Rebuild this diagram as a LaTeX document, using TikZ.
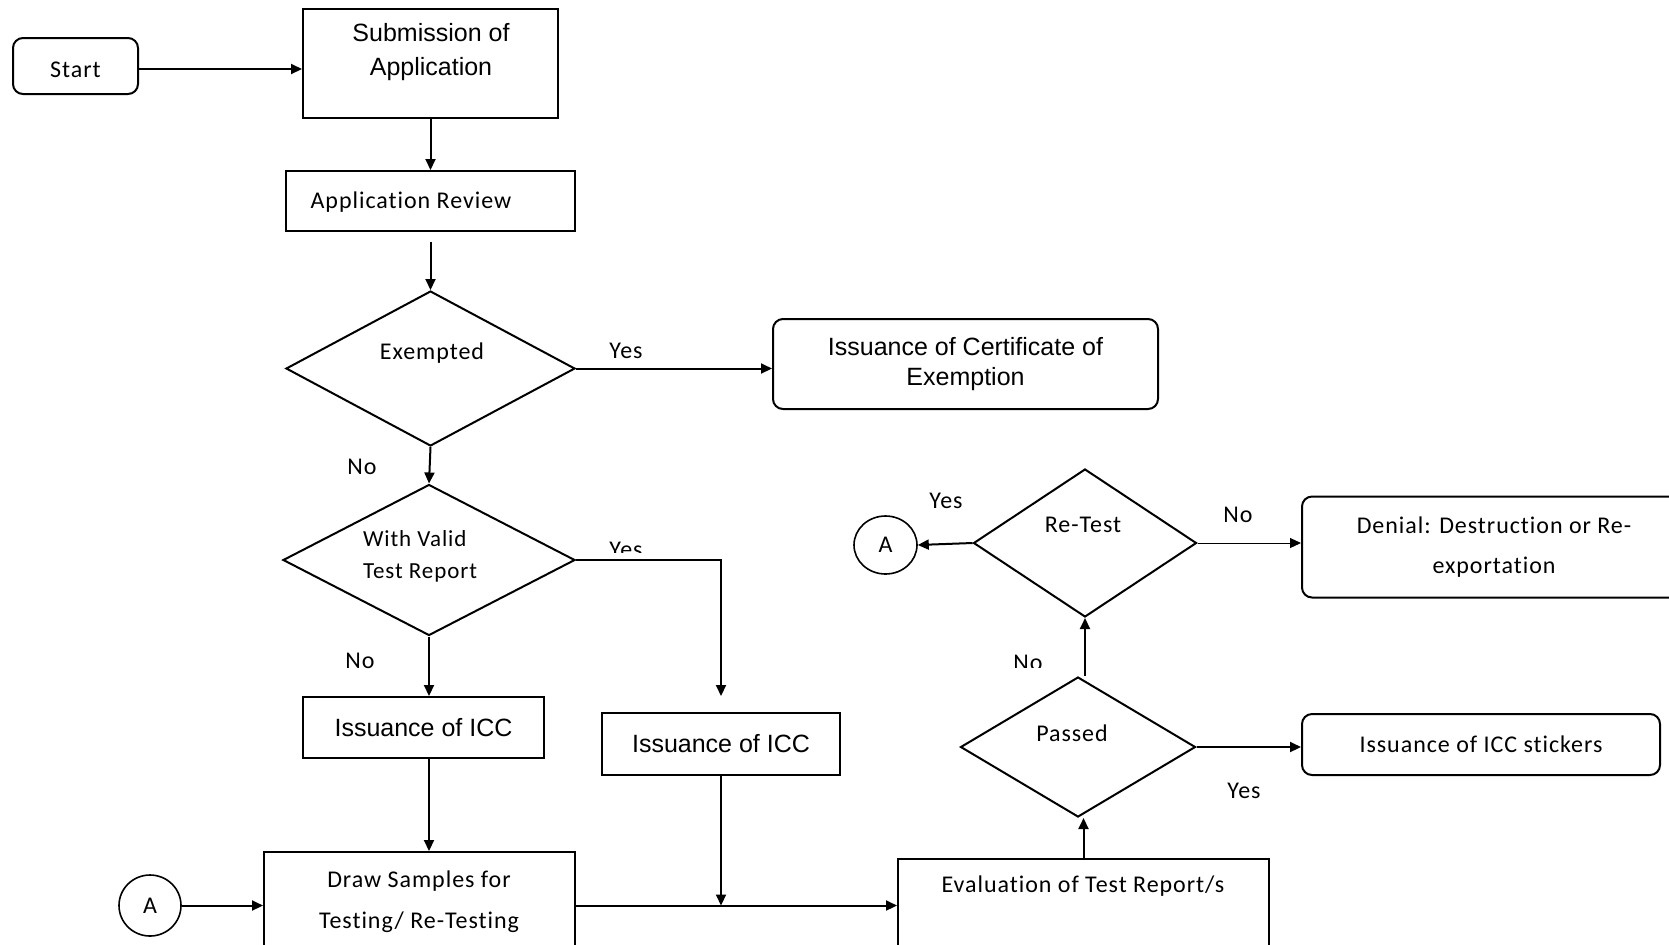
\documentclass[tikz,border=0pt]{standalone}
\usepackage{fontspec}
\setmainfont{Carlito}[LetterSpace=4,Ligatures=NoCommon]
\newfontfamily\arialfont{Liberation Sans}
\usetikzlibrary{arrows.meta,shapes.geometric,calc}

\newcommand\calfont{\fontsize{12}{14}\selectfont}
\newcommand\arfont{\arialfont\fontsize{12.5}{17}\selectfont}

\begin{document}
\begin{tikzpicture}[x=0.5pt,y=-0.5pt,
	box/.style={draw,line width=1pt,rectangle,inner sep=0pt},
	rbox/.style={box,rounded corners=5pt},
	decision/.style={draw,line width=1pt,diamond,inner sep=0pt},
	conn/.style={draw,ellipse,line width=0.8pt,inner sep=0pt,font=\calfont},
	flow/.style={line width=1pt,-{Triangle[length=5.5pt,width=5pt]}},
	txt/.style={inner sep=0pt,font=\calfont},
	lbl/.style={inner sep=0pt,font=\calfont}]
	\useasboundingbox (0,0) rectangle (1669,944);

	% Top row
	\node[rbox,minimum width=62.5pt,minimum height=28pt,font=\calfont,text height=11.7pt,text depth=0pt] (start) at (75.5,66) {Start};
	\node[box,minimum width=127.5pt,minimum height=54.5pt] (submit) at (430.5,63.5) {};
	\node[txt,font=\arfont,align=center] (submittext) at (431,52) {Submission of\\Application};
	\node[box,minimum width=144.5pt,minimum height=30pt] (review) at (430.5,201) {};
	\node[txt] (reviewtext) at (411,202) {Application Review};

	% Exemption check
	\node[decision,minimum width=144.5pt,minimum height=77.5pt] (exempt) at (430.5,368.5) {};
	\node[txt] (exempttext) at (432,353) {Exempted};
	\node[rbox,minimum width=192.5pt,minimum height=45pt,font={\arialfont\fontsize{12.5}{15}\selectfont},align=center] (cert) at (965.5,364) {Issuance of Certificate of\\Exemption};

	% Test report check
	\node[decision,minimum width=146pt,minimum height=75.5pt] (valid) at (429,560) {};
	\node[txt,font={\fontsize{11.5}{16}\selectfont},align=left] (validtext) at (420,556) {With Valid\\Test Report};
	\node[box,minimum width=120.5pt,minimum height=30.5pt,font=\arfont] (iccA) at (423.5,727.5) {Issuance of ICC};
	\node[box,minimum width=119pt,minimum height=31pt,font=\arfont] (iccB) at (721,744) {Issuance of ICC};

	% Bottom row
	\node[box,minimum width=155.5pt,minimum height=54pt] (sample) at (419.5,906) {};
	\node[txt,font={\fontsize{12}{20.5}\selectfont},align=center] (sampletext) at (419,902) {Draw Samples for\\Testing/ Re-Testing};
	\node[conn,minimum width=31pt,minimum height=30.5pt] (circA) at (150,905.5) {A};
	\node[box,minimum width=185.5pt,minimum height=51pt] (eval) at (1083.5,910) {};
	\node[txt] (evaltext) at (1083,886) {Evaluation of Test Report/s};

	% Right part
	\node[decision,minimum width=117.5pt,minimum height=70pt] (passed) at (1078,747) {};
	\node[txt] (passedtext) at (1072,733) {Passed};
	\node[rbox,minimum width=179pt,minimum height=30.5pt,font=\calfont] (stickers) at (1481,744.5) {Issuance of ICC stickers};
	\node[decision,minimum width=111.5pt,minimum height=74pt] (retest) at (1085,543) {};
	\node[txt] (retesttext) at (1083,525) {Re-Test};
	\node[conn,minimum width=31.5pt,minimum height=29pt] (circB) at (885.5,545) {A};
	\node[rbox,minimum width=192pt,minimum height=50.5pt,font={\fontsize{12}{20}\selectfont},align=center] (denial) at (1494,547) {Denial: Destruction or Re-\\exportation};

	% Connectors
	\draw[flow] ([yshift=-1.5pt]start.east) -- ([yshift=-1.5pt]start.east -| submit.west);
	\draw[flow] (submit.south) -- (review.north);
	\draw[flow] ([yshift=-5pt]review.south) -- (exempt.north);
	\draw[flow] (exempt.east) -- (exempt.east -| cert.west);
	\draw[flow] (exempt.south) -- (valid.north);
	\draw[flow] (valid.east) -| ([yshift=8pt]iccB.north);
	\draw[flow] (valid.south) -- (valid.south |- iccA.north);
	\draw[flow] (valid.south |- iccA.south) -- (valid.south |- sample.north);
	\draw[flow] (circA.east) -- (circA.east -| sample.west);
	\draw[flow] (sample.east |- circA.east) -- (eval.west |- circA.east);
	\draw[flow] (iccB.south) -- (iccB.south |- circA.east);
	\draw[flow] (eval.north) -- (eval.north |- passed.south);
	\draw[flow] (passed.east) -- (passed.east -| stickers.west);
	\draw[flow] (retest.south |- passed.north) -- (retest.south);
	\draw[flow] (retest.west) -- (circB.east);
	\draw[flow,line width=0.5pt] (retest.east) -- (retest.east -| denial.west);

	% Yes / No labels
	\node[lbl] (yesexempt) at (626,351) {Yes};
	\node[lbl] (noexempt) at (362,467) {No};
	\begin{scope}
		\clip (590,520) rectangle (670,552);
		\node[lbl] (yesvalid) at (626,550) {Yes};
	\end{scope}
	\node[lbl] (novalid) at (360,661) {No};
	\node[lbl] (yesretest) at (946,501) {Yes};
	\node[lbl] (noretest) at (1238,515) {No};
	\begin{scope}
		\clip (1000,640) rectangle (1060,667);
		\node[lbl] (nopassed) at (1028,663) {No};
	\end{scope}
	\node[lbl] (yespassed) at (1244,791) {Yes};
\end{tikzpicture}
\end{document}
